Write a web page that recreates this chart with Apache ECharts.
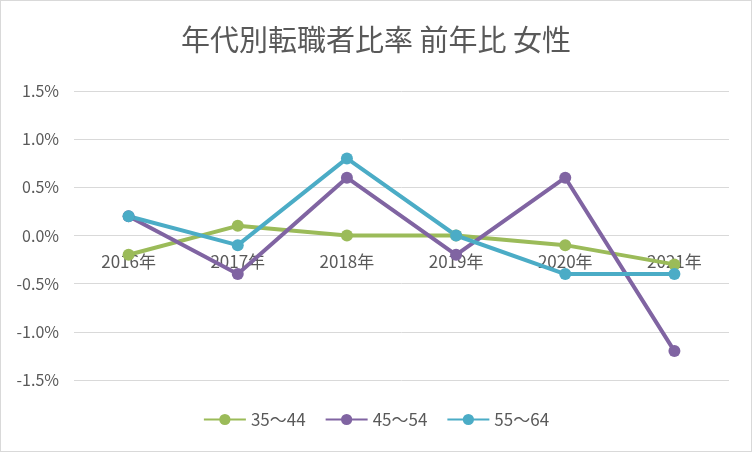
<!DOCTYPE html>
<html>
<head>
    <meta charset="UTF-8">
    <title>年代別転職者比率 前年比 女性</title>
    <style type="text/css">
        html, body {
            margin: 0;
            padding: 0;
            background: #ffffff;
        }

        #main {
            width: 750px;
            height: 450px;
            border: 1px solid #d9d9d9;
        }
    </style>
    <script type="text/javascript" src="https://cdn.jsdelivr.net/npm/echarts@6/dist/echarts.min.js"></script>
</head>
<body>
<div id="main"></div>
<script type="text/javascript">
    var years = ['2016年', '2017年', '2018年', '2019年', '2020年', '2021年'];
    var age35 = [-0.2, 0.1, 0.0, 0.0, -0.1, -0.3];
    var age45 = [0.2, -0.4, 0.6, -0.2, 0.6, -1.2];
    var age55 = [0.2, -0.1, 0.8, 0.0, -0.4, -0.4];
    var yTicks = {min: -1.5, max: 1.5, step: 0.5};

    var font = '"Noto Sans CJK JP", "Noto Sans", sans-serif';
    var gridTop = 90, gridBottom = 71, chartH = 450;
    // 横軸ラベルを0%の線の位置に合わせる
    var zeroOffset = -((chartH - gridTop - gridBottom) * (0 - yTicks.min) / (yTicks.max - yTicks.min));

    function makeLine(name, data, color) {
        return {
            name: name,
            type: 'line',
            data: data,
            symbol: 'circle',
            symbolSize: 12,
            lineStyle: {width: 4, color: color},
            itemStyle: {color: color},
            emphasis: {disabled: true}
        };
    }

    var myChart = echarts.init(document.getElementById('main'));
    var option = {
        animation: false,
        textStyle: {fontFamily: font},
        title: {
            text: '年代別転職者比率 前年比 女性',
            left: 'center',
            top: 19,
            textStyle: {fontSize: 29, fontWeight: 'normal', color: '#595959', fontFamily: font}
        },
        legend: {
            bottom: 18,
            left: 'center',
            itemWidth: 42,
            itemHeight: 14,
            itemGap: 19,
            textStyle: {fontSize: 17, color: '#595959', fontFamily: font},
            data: ['35～44', '45～54', '55～64']
        },
        grid: {
            left: 73,
            right: 22,
            top: gridTop,
            bottom: gridBottom
        },
        xAxis: {
            type: 'category',
            data: years,
            boundaryGap: true,
            position: 'bottom',
            offset: zeroOffset,
            axisLine: {show: false, onZero: false},
            axisTick: {show: false},
            axisLabel: {fontSize: 17, color: '#595959', margin: 18, fontFamily: font}
        },
        yAxis: {
            type: 'value',
            min: yTicks.min,
            max: yTicks.max,
            interval: yTicks.step,
            axisLine: {show: false},
            axisTick: {show: false},
            splitLine: {lineStyle: {color: '#d9d9d9', width: 1}},
            axisLabel: {
                fontSize: 16,
                color: '#595959',
                margin: 15,
                fontFamily: font,
                formatter: function (val) {
                    return val.toFixed(1) + '%';
                }
            }
        },
        series: [
            makeLine('35～44', age35, '#9bbb59'),
            makeLine('45～54', age45, '#8064a2'),
            makeLine('55～64', age55, '#4bacc6')
        ]
    };
    myChart.setOption(option);
</script>
</body>
</html>
